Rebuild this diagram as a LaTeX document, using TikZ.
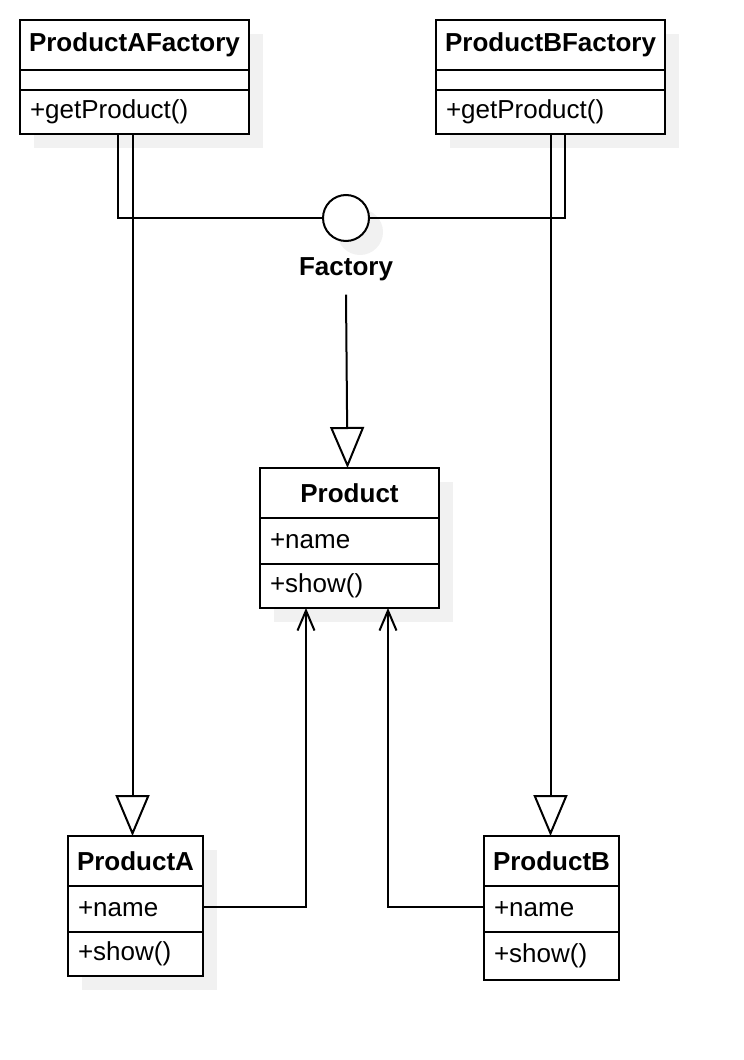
\documentclass[tikz,border=0pt]{standalone}
\usepackage{fontspec}
\setmainfont{Liberation Sans}
\usepackage{tikz}
\usetikzlibrary{positioning,shapes,arrows.meta,shadows}
\definecolor{shadowgray}{HTML}{F1F1F1}
\newcommand{\umlfont}{\fontsize{26}{31}\selectfont}
\tikzstyle{shade} = [drop shadow={shadow xshift=14pt, shadow yshift=-14pt, fill=shadowgray, opacity=1}]
\tikzstyle{classhead} = [rectangle, draw=black, line width=2pt, fill=white, inner sep=0pt, outer sep=0pt, minimum height=50pt, font=\umlfont\bfseries, text centered]
\tikzstyle{classpart} = [rectangle, draw=black, line width=2pt, fill=white, inner ysep=0pt, inner xsep=10pt, outer sep=0pt, font=\umlfont, align=left]
\tikzstyle{iface} = [circle, draw=black, line width=2pt, fill=white, minimum size=46pt, inner sep=0pt, outer sep=0pt]
\tikzstyle{link} = [line width=2pt]
\tikzstyle{inherit} = [line width=2pt, -{Triangle[open, length=41pt, width=34pt]}]
\tikzstyle{assoc} = [line width=2pt, -{Straight Barb[length=20pt, width=17pt]}]

\begin{document}
\begin{tikzpicture}[x=1pt, y=-1pt]
			\useasboundingbox (0,0) rectangle (744,1060);
			% factories
			\node (afac) [classhead, shade, minimum width=229pt, anchor=north west] at (20,20) {ProductAFactory};
			\node (afacattr) [classpart, shade, text width=209pt, minimum height=20pt, below=0pt of afac] {};
			\node (afacop) [classpart, shade, text width=209pt, minimum height=44pt, below=0pt of afacattr] {+getProduct()};
			
			\node (bfac) [classhead, shade, minimum width=229pt, anchor=north west] at (436,20) {ProductBFactory};
			\node (bfacattr) [classpart, shade, text width=209pt, minimum height=20pt, below=0pt of bfac] {};
			\node (bfacop) [classpart, shade, text width=209pt, minimum height=44pt, below=0pt of bfacattr] {+getProduct()};
			
			% interface
			\node (fac) [iface, shade] at (346,218) {};
			\node (faclabel) [font=\umlfont\bfseries, inner sep=0pt, anchor=north, below=16pt of fac] {Factory};
			
			% products
			\node (prod) [classhead, shade, minimum width=179pt, anchor=north west] at (260,468) {Product};
			\node (prodattr) [classpart, shade, text width=159pt, minimum height=46pt, below=0pt of prod] {+name};
			\node (prodop) [classpart, shade, text width=159pt, minimum height=44pt, below=0pt of prodattr] {+show()};
			
			\node (pa) [classhead, shade, minimum width=135pt, anchor=north west] at (68,836) {ProductA};
			\node (paattr) [classpart, shade, text width=115pt, minimum height=46pt, below=0pt of pa] {+name};
			\node (paop) [classpart, shade, text width=115pt, minimum height=44pt, below=0pt of paattr] {+show()};
			
			\node (pb) [classhead, minimum width=135pt, anchor=north west] at (484,836) {ProductB};
			\node (pbattr) [classpart, text width=115pt, minimum height=46pt, below=0pt of pb] {+name};
			\node (pbop) [classpart, text width=115pt, minimum height=48pt, below=0pt of pbattr] {+show()};
			
			\draw [link] ([xshift=-17pt]afacop.south) |- (fac.west);
			\draw [link] ([xshift=14pt]bfacop.south) |- (fac.east);
			\draw [inherit] ([xshift=-2pt]afacop.south) -- ([xshift=-2pt]afacop.south |- pa.north);
			\draw [inherit] (bfacop.south) -- (bfacop.south |- pb.north);
			\draw [inherit] ([yshift=-14pt]faclabel.south) -- ([xshift=-2pt]prod.north);
			\draw [assoc] ([yshift=2pt]paattr.east) -| ([xshift=-43.5pt]prodop.south);
			\draw [assoc] ([yshift=2pt]pbattr.west) -| ([xshift=38.5pt]prodop.south);
			\end{tikzpicture}
\end{document}
